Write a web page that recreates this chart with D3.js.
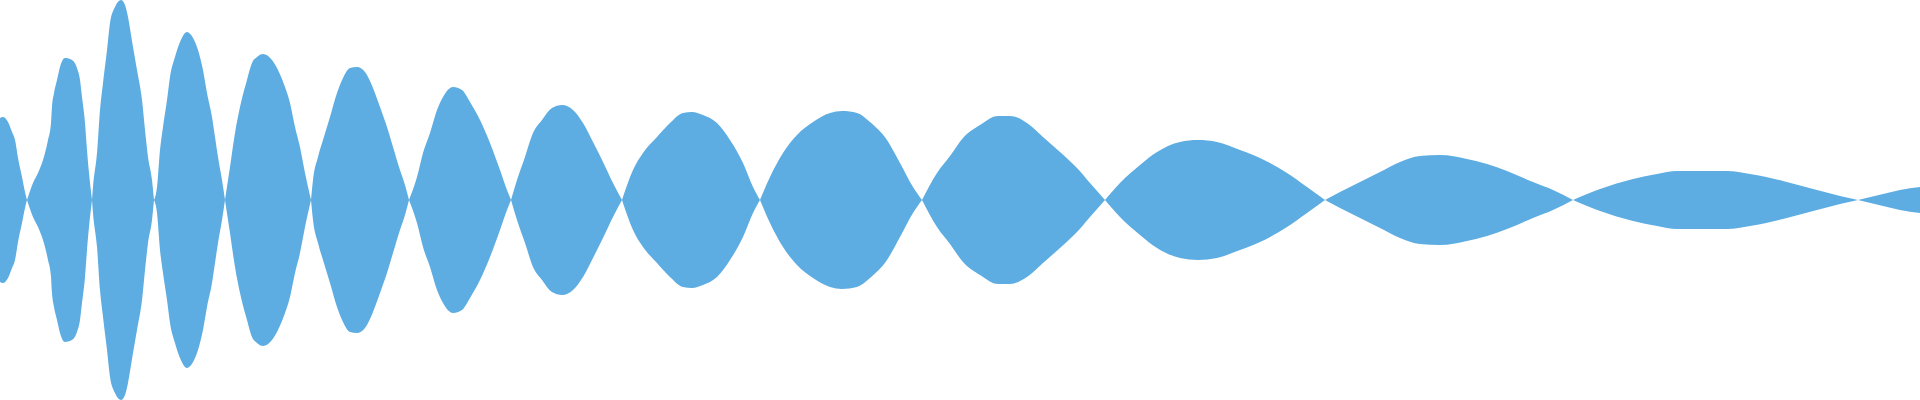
<!DOCTYPE html>
<html>
<head>
<meta charset="utf-8">
<script src="https://cdn.jsdelivr.net/npm/d3@7"></script>
<style>
  html, body { margin: 0; padding: 0; background: #fff; }
  #wavechart { width: 1920px; height: 400px; }
</style>
</head>
<body>
<div id="wavechart"></div>
<script>
// envelope of the waveform, time in ms and normalised amplitude
var timeMs = [
  0, 3, 8, 12, 15, 18, 22, 25, 27,
  33, 38, 42, 45, 48, 51, 52, 54, 57, 60, 65, 72, 77, 80, 82, 85, 87, 89, 92,
  93, 97, 100, 103, 107, 110, 115, 121, 125, 128, 133, 137, 142, 145, 148, 152, 154,
  157, 160, 163, 167, 170, 175, 180, 187, 193, 198, 203, 207, 212, 215, 218, 222, 225,
  230, 235, 240, 247, 252, 257, 263, 272, 278, 285, 290, 295, 300, 305, 311,
  313, 318, 323, 330, 337, 343, 350, 357, 365, 373, 380, 387, 393, 400, 405, 409,
  417, 423, 430, 437, 443, 453, 462, 470, 480, 490, 500, 507, 511,
  517, 525, 533, 542, 552, 562, 573, 583, 593, 603, 613, 622,
  633, 643, 657, 670, 683, 692, 703, 717, 730, 743, 753, 760,
  770, 783, 797, 813, 830, 842, 857, 870, 887, 900, 913, 922,
  937, 950, 963, 980, 998, 1010, 1027, 1043, 1060, 1077, 1090, 1105,
  1120, 1140, 1157, 1180, 1198, 1217, 1240, 1260, 1287, 1307, 1325,
  1340, 1360, 1380, 1400, 1420, 1440, 1467, 1487, 1507, 1533, 1553, 1573,
  1600, 1633, 1657, 1677, 1700, 1727, 1750, 1783, 1817, 1840, 1858,
  1883, 1900, 1920
];
var amplitude = [
  0.41, 0.415, 0.39, 0.34, 0.3, 0.21, 0.115, 0.04, 0,
  0.085, 0.135, 0.185, 0.235, 0.3, 0.385, 0.465, 0.535, 0.6, 0.665, 0.71, 0.7, 0.66, 0.6, 0.515, 0.385, 0.25, 0.135, 0,
  0.065, 0.235, 0.45, 0.585, 0.75, 0.885, 0.965, 1.0, 0.975, 0.915, 0.765, 0.65, 0.5, 0.35, 0.215, 0.1, 0,
  0.065, 0.25, 0.365, 0.5, 0.615, 0.715, 0.79, 0.84, 0.81, 0.75, 0.65, 0.535, 0.415, 0.315, 0.215, 0.1, 0,
  0.165, 0.335, 0.465, 0.6, 0.685, 0.715, 0.73, 0.7, 0.65, 0.565, 0.485, 0.365, 0.265, 0.135, 0,
  0.1, 0.215, 0.3, 0.415, 0.535, 0.61, 0.66, 0.665, 0.64, 0.56, 0.465, 0.365, 0.265, 0.15, 0.075, 0,
  0.115, 0.235, 0.335, 0.45, 0.515, 0.565, 0.55, 0.49, 0.4, 0.285, 0.15, 0.05, 0,
  0.1, 0.215, 0.335, 0.4, 0.46, 0.475, 0.45, 0.385, 0.29, 0.19, 0.085, 0,
  0.15, 0.235, 0.315, 0.385, 0.435, 0.44, 0.425, 0.385, 0.3, 0.185, 0.065, 0,
  0.115, 0.235, 0.325, 0.39, 0.435, 0.445, 0.435, 0.39, 0.3, 0.185, 0.065, 0,
  0.135, 0.22, 0.31, 0.375, 0.42, 0.42, 0.385, 0.315, 0.24, 0.16, 0.085, 0,
  0.085, 0.175, 0.24, 0.29, 0.3, 0.29, 0.25, 0.21, 0.135, 0.065, 0,
  0.04, 0.09, 0.14, 0.19, 0.22, 0.225, 0.205, 0.18, 0.145, 0.09, 0.05, 0,
  0.055, 0.105, 0.13, 0.145, 0.145, 0.145, 0.13, 0.095, 0.05, 0.02, 0,
  0.03, 0.05, 0.065
];

var wavechart = (function() {
  var svg = null;
  var w = 1920;
  var h = 400;

  var render = function(selection, points) {
    var tValue = d => d.t;
    var aValue = d => d.a;

    var xScale = d3.scaleLinear()
      .domain([0, 1920])
      .range([0, w]);
    var yScale = d3.scaleLinear()
      .domain([-1, 1])
      .range([h, 0]);

    // split the envelope at every zero so each lobe keeps a sharp pinch
    var lobes = [];
    var current = [];
    points.forEach(function(p) {
      current.push(p);
      if (aValue(p) === 0 && current.length > 1) {
        lobes.push(current);
        current = [p];
      }
    });
    if (current.length > 1) lobes.push(current);

    var areaGenerator = d3.area()
      .x(d => xScale(tValue(d)))
      .y0(d => yScale(-aValue(d)))
      .y1(d => yScale(aValue(d)))
      .curve(d3.curveMonotoneX);

    selection.selectAll(".lobe")
      .data(lobes)
      .enter()
        .append("path")
          .attr("class", "lobe")
          .attr("fill", "#5dade2")
          .attr("d", d => areaGenerator(d));
  }

  var init = function() {
    svg = d3.select("#wavechart").append("svg")
      .attr("width", w)
      .attr("height", h);

    var points = timeMs.map((t, i) => ({t: t, a: amplitude[i]}));
    render(svg, points);
  }

  return {
    init: init
  }
})();

wavechart.init();
</script>
</body>
</html>
